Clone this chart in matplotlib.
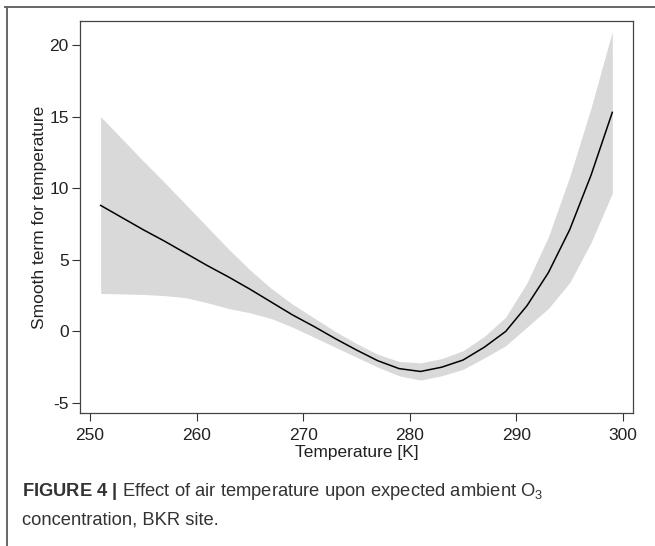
import matplotlib
matplotlib.use("Agg")
import matplotlib.pyplot as plt
from matplotlib.lines import Line2D

plt.rcParams['font.family'] = ['Liberation Sans', 'DejaVu Sans']
plt.rcParams['mathtext.fontset'] = 'custom'
plt.rcParams['mathtext.rm'] = 'Liberation Sans'
plt.rcParams['mathtext.bf'] = 'Liberation Sans:bold'
plt.rcParams['mathtext.it'] = 'Liberation Sans:italic'

# temperature grid (K) and smooth term with its confidence band
temp = [251, 253, 255, 257, 259, 261, 263, 265, 267, 269, 271, 273, 275,
        277, 279, 281, 283, 285, 287, 289, 291, 293, 295, 297, 299]
fit = [8.8, 7.95, 7.1, 6.3, 5.45, 4.6, 3.8, 2.95, 2.05, 1.15, 0.35, -0.5, -1.3,
       -2.05, -2.6, -2.8, -2.5, -2.0, -1.1, 0.0, 1.8, 4.1, 7.1, 10.9, 15.3]
upper = [15.0, 13.45, 11.9, 10.4, 8.85, 7.3, 5.75, 4.3, 3.0, 1.9, 0.95, 0.0, -0.85,
         -1.6, -2.1, -2.2, -1.9, -1.35, -0.35, 1.0, 3.4, 6.6, 10.8, 15.6, 20.95]
lower = [2.65, 2.62, 2.58, 2.5, 2.35, 2.0, 1.6, 1.3, 0.9, 0.3, -0.4, -1.1, -1.8,
         -2.5, -3.1, -3.4, -3.1, -2.65, -1.85, -1.0, 0.3, 1.6, 3.4, 6.2, 9.65]

xticks = [250, 260, 270, 280, 290, 300]
yticks = [-5, 0, 5, 10, 15, 20]

fig = plt.figure(figsize=(6.55, 5.46), dpi=100)
ax = fig.add_axes([0.1221, 0.2436, 0.8443, 0.7179])

ax.fill_between(temp, lower, upper, color='#d9d9d9', linewidth=0)
ax.plot(temp, fit, color='black', linewidth=1.1)

ax.set_xlim(249.06, 300.94)
ax.set_ylim(-5.7, 21.68)
ax.set_xticks(xticks)
ax.set_yticks(yticks)
ax.set_yticklabels([str(v) for v in yticks])
ax.tick_params(axis='both', direction='out', length=6, width=0.8, color='#333333',
               labelsize=12.5, labelcolor='#222222')
ax.tick_params(axis='y', pad=2)
ax.tick_params(axis='x', pad=5)
for s in ax.spines.values():
    s.set_color('#444444')
    s.set_linewidth(0.9)

ax.set_xlabel('Temperature [K]', fontsize=12.5, color='#222222', labelpad=1)
ax.set_ylabel('Smooth term for temperature', fontsize=12.5, color='#222222', labelpad=2)

# outer frame (top and left edges only)
fig.add_artist(Line2D([5 / 655, 1.0], [1 - 7 / 546, 1 - 7 / 546], transform=fig.transFigure,
                      color='#666666', linewidth=1.4))
fig.add_artist(Line2D([7 / 655, 7 / 655], [0.0, 1 - 7 / 546], transform=fig.transFigure,
                      color='#666666', linewidth=1.4))

fig.text(22 / 655, 1 - 492 / 546,
         r'$\mathbf{FIGURE\ 4\ |}$ Effect of air temperature upon expected ambient O$_3$',
         fontsize=13.2, color='#333333', va='center', ha='left')
fig.text(22 / 655, 1 - 520 / 546, 'concentration, BKR site.',
         fontsize=13.2, color='#333333', va='center', ha='left')

fig.savefig('out.png', dpi=100)
